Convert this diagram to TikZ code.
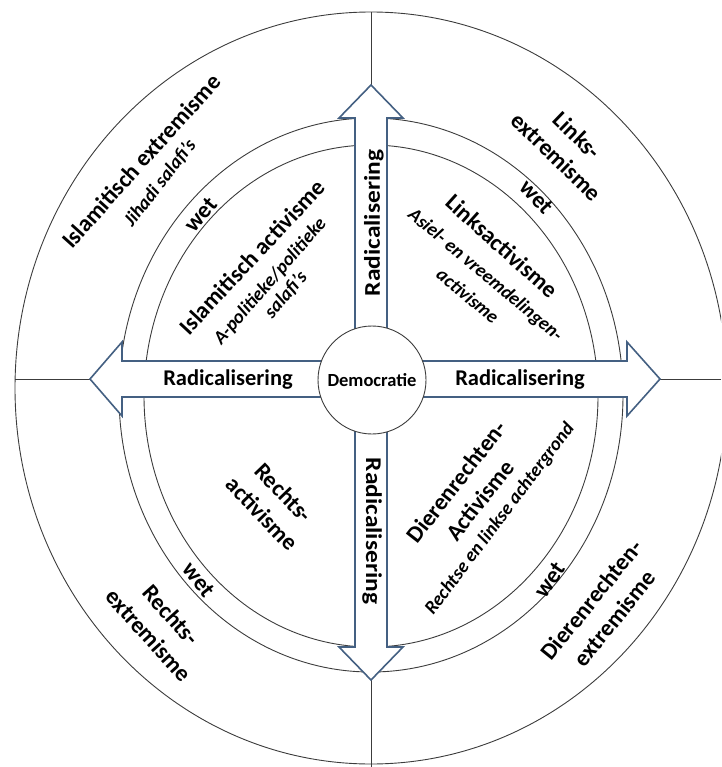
\documentclass[tikz,border=0pt]{standalone}
\usepackage{fontspec}
\setmainfont{Carlito}
\usepackage{graphicx}
\definecolor{arrowblue}{RGB}{68,96,130}
\definecolor{ringgray}{RGB}{60,60,60}

\begin{document}
\begin{tikzpicture}[x=1pt,y=-1pt,
	ring/.style={draw=ringgray, line width=0.9pt},
	radarrow/.style={draw=arrowblue, fill=white, line width=1.6pt, line join=miter},
	lbl/.style={font=\bfseries\fontsize{23.5}{30}\selectfont, align=center, inner sep=0pt},
	sub/.style={font=\bfseries\itshape\fontsize{19}{22}\selectfont, align=center, inner sep=0pt},
	radtxt/.style={font=\bfseries\fontsize{22.5}{24}\selectfont, inner sep=0pt}]

	\useasboundingbox (0,0) rectangle (721,767);
	\clip (0,0) rectangle (721,767);

	% outer ring and the two wet rings
	\draw[ring] (371,388) ellipse [x radius=356pt, y radius=376pt];
	\draw[ring] (371,395) ellipse [x radius=252pt, y radius=277pt];
	\draw[ring] (371,396) ellipse [x radius=227pt, y radius=251pt];

	% dividing lines
	\coordinate (tipN) at (371,85);
	\coordinate (tipS) at (371,680);
	\coordinate (tipW) at (90,379);
	\coordinate (tipE) at (660,379);
	\coordinate (edgeN) at (371,12);
	\coordinate (edgeS) at (371,767);
	\coordinate (edgeW) at (15,379);
	\coordinate (edgeE) at (721,379);
	\draw[ring] (edgeN) -- (tipN);
	\draw[ring] (edgeS) -- (tipS);
	\draw[ring] (edgeW) -- (tipW);
	\draw[ring] (edgeE) -- (tipE);

	% arrows
	\draw[radarrow] (355,379) -- (355,118) -- (339,118) -- (tipN) -- (403,118) -- (387,118) -- (387,379) -- cycle;
	\draw[radarrow] (355,379) -- (355,647) -- (339,647) -- (tipS) -- (403,647) -- (387,647) -- (387,379) -- cycle;
	\draw[radarrow] (371,361) -- (122,361) -- (122,342) -- (tipW) -- (122,416) -- (122,397) -- (371,397) -- cycle;
	\draw[radarrow] (371,361) -- (627,361) -- (627,342) -- (tipE) -- (627,416) -- (627,397) -- (371,397) -- cycle;

	\node[ring, circle, fill=white, minimum size=108pt, inner sep=0pt, font=\bfseries\fontsize{18.5}{20}\selectfont] (demo) at (372,380) {Democratie};

	\node[radtxt, rotate=90] (radN) at (374,223) {\scalebox{1.13}[1]{Radicalisering}};
	\node[radtxt, rotate=-90] (radS) at (372,531) {\scalebox{1.13}[1]{Radicalisering}};
	\node[radtxt] (radW) at (228,380) {Radicalisering};
	\node[radtxt] (radE) at (520,380) {Radicalisering};

	% top left
	\node[lbl, rotate=48] (islExt) at (141,161) {Islamitisch extremisme};
	\node[sub, rotate=52] (jihadi) at (160,183) {Jihadi salafi's};
	\node[lbl, rotate=50] (wetNW) at (201,215) {wet};
	\node[lbl, rotate=47] (islAct) at (252,257) {Islamitisch activisme};
	\node[sub, rotate=49, font=\bfseries\itshape\fontsize{19}{21}\selectfont] (salafi) at (278,288) {A-politieke/politieke\\salafi's};

	% top right
	\node[lbl, rotate=-44] (linksExt) at (567,146) {Links-\\extremisme};
	\node[lbl, rotate=-47] (wetNE) at (537,197) {wet};
	\node[lbl, rotate=-42] (linksAct) at (502,246) {Linksactivisme};
	\node[sub, rotate=-40, font=\bfseries\itshape\fontsize{19}{28}\selectfont] (asiel) at (477,285) {Asiel- en vreemdelingen-\\activisme};

	% bottom left
	\node[lbl, rotate=-46] (rechtsAct) at (273,503) {Rechts-\\activisme};
	\node[lbl, rotate=-52] (wetSW) at (199,580) {wet};
	\node[lbl, rotate=-48] (rechtsExt) at (160,625) {Rechts-\\extremisme};

	% bottom right
	\node[lbl, rotate=52] (dierAct) at (468,491) {Dierenrechten-\\Activisme};
	\node[sub, rotate=53] (achter) at (500,519) {Rechtse en linkse achtergrond};
	\node[lbl, rotate=55] (wetSE) at (550,580) {wet};
	\node[lbl, rotate=51] (dierExt) at (603,609) {Dierenrechten-\\extremisme};

\end{tikzpicture}
\end{document}
